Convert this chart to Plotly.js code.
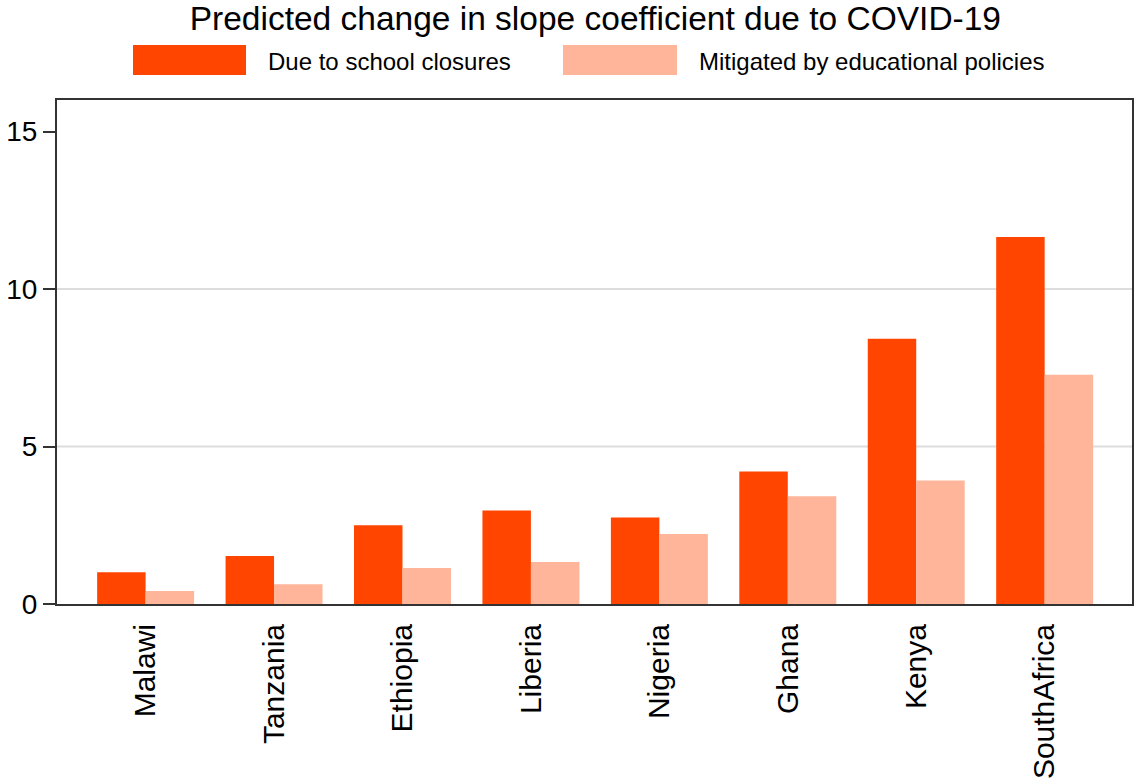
<!DOCTYPE html>
<html>
<head>
<meta charset="utf-8">
<script src="https://cdn.plot.ly/plotly-3.0.1.min.js"></script>
<style>html,body{margin:0;padding:0;background:#fff;}#chart{width:1134px;height:781px;}</style>
</head>
<body>
<div id="chart"></div>
<script>
const countries = ["Malawi","Tanzania","Ethiopia","Liberia","Nigeria","Ghana","Kenya","SouthAfrica"];
const schoolClosures = [1.01, 1.52, 2.50, 2.97, 2.75, 4.21, 8.42, 11.65];
const mitigated = [0.41, 0.63, 1.14, 1.33, 2.22, 3.42, 3.92, 7.28];
const seriesNames = ["Due to school closures", "Mitigated by educational policies"];
const seriesColors = ["#FF4500", "#FFB59A"];
const yTicks = [0, 5, 10, 15];
const gridVals = [5, 10];
const titleText = "Predicted change in slope coefficient due to COVID-19";

const FONT = "Arial, Liberation Sans, sans-serif";

const traces = [
  {type:"bar", x:countries, y:schoolClosures, name:seriesNames[0], marker:{color:seriesColors[0], line:{width:0}}},
  {type:"bar", x:countries, y:mitigated, name:seriesNames[1], marker:{color:seriesColors[1], line:{width:0}}}
];

// plot area: left 57, right 1132, top 100, bottom 604
const toPaperX = x => (x - 57) / 1075;
const toPaperY = y => (604 - y) / 504;

const shapes = gridVals.map(v => ({type:"line", xref:"paper", x0:0, x1:1, yref:"y", y0:v, y1:v, line:{color:"#DDDDDD", width:2}, layer:"below"}));
const legSwatchX = [[133,246],[563,677]];
const legTextX = [266, 697];
legSwatchX.forEach((p,i) => shapes.push({type:"rect", xref:"paper", yref:"paper",
  x0:toPaperX(p[0]), x1:toPaperX(p[1]), y0:toPaperY(75), y1:toPaperY(45),
  fillcolor:seriesColors[i], line:{width:0}}));

const annotations = seriesNames.map((n,i) => ({xref:"paper", yref:"paper", x:toPaperX(legTextX[i]), y:toPaperY(61),
  xanchor:"left", yanchor:"middle", text:n, showarrow:false, font:{family:FONT, size:24, color:"#000"}}));

const layout = {
  width:1134, height:781,
  margin:{l:57, r:2, t:100, b:177},
  paper_bgcolor:"#fff", plot_bgcolor:"#fff",
  showlegend:false,
  barmode:"group", bargap:0.245, bargroupgap:0,
  title:{text:titleText, x:0.525, xanchor:"center", y:0.977, yanchor:"middle", font:{family:FONT, size:33.5, color:"#000"}},
  font:{family:FONT, color:"#000"},
  xaxis:{type:"category", range:[-0.69, 7.68], tickangle:-90, tickfont:{size:30, color:"#000"}, ticks:"", ticklabelstandoff:6, showgrid:false, showline:true, linecolor:"#333", linewidth:2, mirror:true, zeroline:false, fixedrange:true},
  yaxis:{range:[0,16], tickvals:yTicks, ticktext:yTicks.map(String), tickfont:{size:28, color:"#000"}, ticks:"outside", ticklen:12, tickwidth:2, tickcolor:"#333", showgrid:false, showline:true, linecolor:"#333", linewidth:2, mirror:true, zeroline:false, fixedrange:true},
  shapes:shapes,
  annotations:annotations
};

Plotly.newPlot("chart", traces, layout, {displayModeBar:false, staticPlot:true});
</script>
</body>
</html>
